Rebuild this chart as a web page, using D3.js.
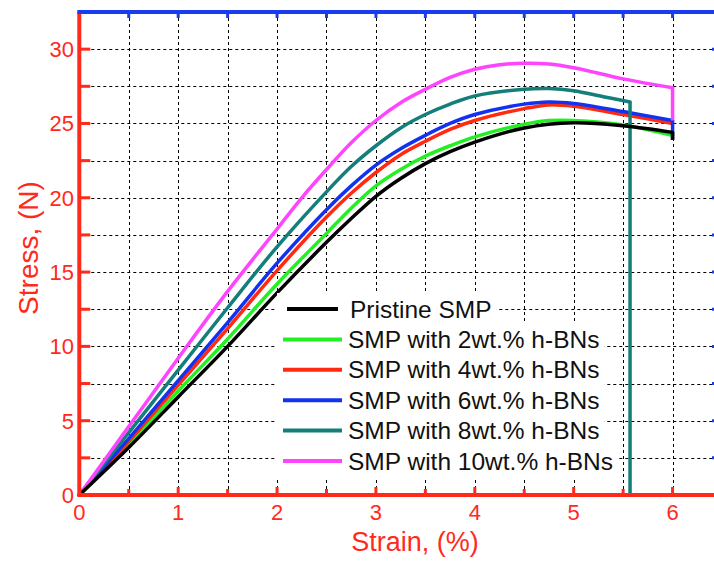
<!DOCTYPE html>
<html>
<head>
<meta charset="utf-8">
<script src="https://cdn.jsdelivr.net/npm/d3@7"></script>
<style>
  body { margin: 0; background: #fff; }
  svg { display: block; font-family: "Liberation Sans", Arial, sans-serif; }
</style>
</head>
<body>
<div id="chart"></div>
<script>
// strain (%) / stress (N)
const pristine = [[0,0],[0.5,3.2],[1,6.6],[1.5,10.0],[2,13.6],[2.5,17.0],[2.75,18.6],[3,20.1],[3.25,21.3],[3.5,22.3],[3.75,23.1],[4,23.75],[4.5,24.7],[5,25.05],[5.5,24.85],[6,24.4]];
const pristineTail = [[6,24.4],[6,23.9]];
const wt2 = [[0,0],[0.5,3.4],[1,7.0],[1.5,10.5],[2,14.2],[2.5,17.6],[2.75,19.3],[3,20.8],[3.25,21.9],[3.5,22.8],[3.75,23.5],[4,24.1],[4.5,24.95],[4.75,25.2],[5,25.2],[5.5,24.9],[6,24.2]];
const wt2Tail = [];
const wt4 = [[0,0],[0.5,3.6],[1,7.4],[1.5,11.2],[2,15.1],[2.5,18.7],[2.75,20.3],[3,21.7],[3.25,22.9],[3.5,23.8],[3.75,24.6],[4,25.2],[4.5,26.0],[4.75,26.25],[5,26.15],[5.5,25.6],[6,25.0]];
const wt4Tail = [];
const wt6 = [[0,0],[0.5,3.8],[1,7.7],[1.5,11.6],[2,15.6],[2.5,19.2],[2.75,20.8],[3,22.2],[3.25,23.3],[3.5,24.2],[3.75,25.0],[4,25.6],[4.5,26.3],[4.75,26.45],[5,26.35],[5.5,25.8],[6,25.2]];
const wt6Tail = [[6,25.2],[6,23.9]];
const wt8 = [[0,0],[0.5,4.2],[1,8.4],[1.5,12.6],[2,16.7],[2.5,20.4],[2.75,22.1],[3,23.5],[3.25,24.7],[3.5,25.6],[3.75,26.3],[4,26.85],[4.5,27.3],[4.75,27.35],[5,27.2],[5.3,26.8],[5.57,26.45]];
const wt8Tail = [[5.57,26.45],[5.57,0],[6,0]];
const wt10 = [[0,0],[0.5,4.6],[1,9.2],[1.5,13.7],[2,17.9],[2.25,20.0],[2.5,21.9],[2.75,23.7],[3,25.2],[3.25,26.4],[3.5,27.3],[3.75,28.1],[4,28.65],[4.25,28.95],[4.5,29.05],[4.75,29.0],[5,28.75],[5.5,28.0],[6,27.4]];
const wt10Tail = [[6,27.4],[6,25.2]];

const seriesNames = ['Pristine SMP', 'SMP with 2wt.% h-BNs', 'SMP with 4wt.% h-BNs',
                     'SMP with 6wt.% h-BNs', 'SMP with 8wt.% h-BNs', 'SMP with 10wt.% h-BNs'];
const seriesValues = [pristine, wt2, wt4, wt6, wt8, wt10];
const seriesTails = [pristineTail, wt2Tail, wt4Tail, wt6Tail, wt8Tail, wt10Tail];
const seriesColors = ['#000000', '#22f022', '#ff2a10', '#1232f0', '#137e7a', '#ff44ff'];

const xTicks = [0, 1, 2, 3, 4, 5, 6];
const yTicks = [0, 5, 10, 15, 20, 25, 30];

const width = 714;
const height = 561;
const red = '#ff2a1a';
const blue = '#1a3cf0';

const xScale = d3.scaleLinear()
                 .domain([0, 6.5])
                 .range([79.3, 722]);

const yScale = d3.scaleLinear()
                 .domain([0, 32.5])
                 .range([495, 12]);

const svg = d3.select('#chart')
              .append('svg')
              .attr('width', width)
              .attr('height', height);

// dashed grid every 0.5 strain / 2.5 stress
const xGrid = d3.range(0.5, 6.5, 0.5);
const yGrid = d3.range(2.5, 32.5, 2.5);

svg.append('g')
   .selectAll('line')
   .data(xGrid)
   .enter()
   .append('line')
   .attr('x1', d => Math.round(xScale(d)) + 0.5)
   .attr('x2', d => Math.round(xScale(d)) + 0.5)
   .attr('y1', yScale(0))
   .attr('y2', yScale(32.5))
   .attr('stroke', '#000')
   .attr('stroke-width', 1)
   .attr('stroke-dasharray', '3,3');

svg.append('g')
   .selectAll('line')
   .data(yGrid)
   .enter()
   .append('line')
   .attr('x1', xScale(0))
   .attr('x2', xScale(6.5))
   .attr('y1', d => Math.round(yScale(d)) + 0.5)
   .attr('y2', d => Math.round(yScale(d)) + 0.5)
   .attr('stroke', '#000')
   .attr('stroke-width', 1)
   .attr('stroke-dasharray', '3,3');

// curves
const line = d3.line()
               .x(d => xScale(d[0]))
               .y(d => yScale(d[1]))
               .curve(d3.curveCatmullRom.alpha(0.5));

const tailLine = d3.line()
                   .x(d => xScale(d[0]))
                   .y(d => yScale(d[1]));

const drawOrder = [1, 2, 3, 4, 5, 0];

drawOrder.forEach(i => {
    svg.append('path')
       .attr('d', line(seriesValues[i]))
       .attr('fill', 'none')
       .attr('stroke', seriesColors[i])
       .attr('stroke-width', 3.5)
       .attr('stroke-linejoin', 'round')
       .attr('stroke-linecap', 'round');
    if (seriesTails[i].length) {
        svg.append('path')
           .attr('d', tailLine(seriesTails[i]))
           .attr('fill', 'none')
           .attr('stroke', seriesColors[i])
           .attr('stroke-width', 3.5)
           .attr('stroke-linejoin', 'miter')
           .attr('stroke-linecap', 'butt');
    }
});

// axes frame
const x0 = xScale(0), x1 = xScale(6.5);
const y0 = yScale(0), y1 = yScale(32.5);

// bottom & left (red)
svg.append('line')
   .attr('x1', x0).attr('x2', x1)
   .attr('y1', y0).attr('y2', y0)
   .attr('stroke', red).attr('stroke-width', 4);

svg.append('g')
   .selectAll('line')
   .data(d3.range(0.5, 6.5, 0.5))
   .enter()
   .append('line')
   .attr('x1', d => xScale(d)).attr('x2', d => xScale(d))
   .attr('y1', y0).attr('y2', d => y0 - (d % 1 === 0 ? 8 : 6))
   .attr('stroke', red).attr('stroke-width', 3);

svg.append('line')
   .attr('x1', x0).attr('x2', x0)
   .attr('y1', y0 + 2).attr('y2', y1)
   .attr('stroke', red).attr('stroke-width', 4);

svg.append('g')
   .selectAll('line')
   .data(d3.range(2.5, 32.5, 2.5))
   .enter()
   .append('line')
   .attr('x1', x0).attr('x2', x0 + 11)
   .attr('y1', d => yScale(d)).attr('y2', d => yScale(d))
   .attr('stroke', red).attr('stroke-width', 3);

// top & right (blue)
svg.append('line')
   .attr('x1', x0 - 2).attr('x2', x1)
   .attr('y1', y1).attr('y2', y1)
   .attr('stroke', blue).attr('stroke-width', 4);

svg.append('g')
   .selectAll('line')
   .data(d3.range(0.5, 6.5, 0.5))
   .enter()
   .append('line')
   .attr('x1', d => xScale(d)).attr('x2', d => xScale(d))
   .attr('y1', y1).attr('y2', y1 + 6)
   .attr('stroke', blue).attr('stroke-width', 3);

svg.append('line')
   .attr('x1', x1).attr('x2', x1)
   .attr('y1', y1).attr('y2', y0)
   .attr('stroke', blue).attr('stroke-width', 4);

svg.append('g')
   .selectAll('line')
   .data(d3.range(2.5, 32.5, 2.5))
   .enter()
   .append('line')
   .attr('x1', x1).attr('x2', x1 - 10)
   .attr('y1', d => yScale(d)).attr('y2', d => yScale(d))
   .attr('stroke', blue).attr('stroke-width', 3);

// tick labels
svg.append('g')
   .selectAll('text')
   .data(xTicks)
   .enter()
   .append('text')
   .attr('x', d => xScale(d))
   .attr('y', 520)
   .attr('text-anchor', 'middle')
   .attr('font-size', 22)
   .attr('fill', red)
   .text(d => d);

svg.append('g')
   .selectAll('text')
   .data(yTicks)
   .enter()
   .append('text')
   .attr('x', 74)
   .attr('y', d => yScale(d) + 8)
   .attr('text-anchor', 'end')
   .attr('font-size', 22)
   .attr('fill', red)
   .text(d => d);

// axis titles
svg.append('text')
   .attr('x', 415)
   .attr('y', 551)
   .attr('text-anchor', 'middle')
   .attr('font-size', 27)
   .attr('fill', red)
   .text('Strain, (%)');

svg.append('text')
   .attr('transform', 'translate(38,248) rotate(-90)')
   .attr('text-anchor', 'middle')
   .attr('font-size', 28)
   .attr('fill', red)
   .text('Stress, (N)');

// legend
const legendTop = 309;
const legendStep = 30.4;

const legend = svg.append('g');

seriesNames.forEach((name, i) => {
    const cy = legendTop + i * legendStep;
    const row = legend.append('g');
    const bg = row.append('rect')
                  .attr('fill', '#fff');
    row.append('line')
       .attr('x1', i === 0 ? 287 : 283)
       .attr('x2', i === 0 ? 338 : 342)
       .attr('y1', cy).attr('y2', cy)
       .attr('stroke', seriesColors[i])
       .attr('stroke-width', 4);
    const t = row.append('text')
                 .attr('x', i === 0 ? 350 : 348)
                 .attr('y', cy + 8.5)
                 .attr('font-size', 24.5)
                 .attr('fill', '#111')
                 .text(name);
    const w = t.node().getComputedTextLength();
    bg.attr('x', 277)
      .attr('y', cy - 16)
      .attr('width', (i === 0 ? 350 : 348) + w + 5 - 277)
      .attr('height', legendStep + 2);
});
</script>
</body>
</html>
